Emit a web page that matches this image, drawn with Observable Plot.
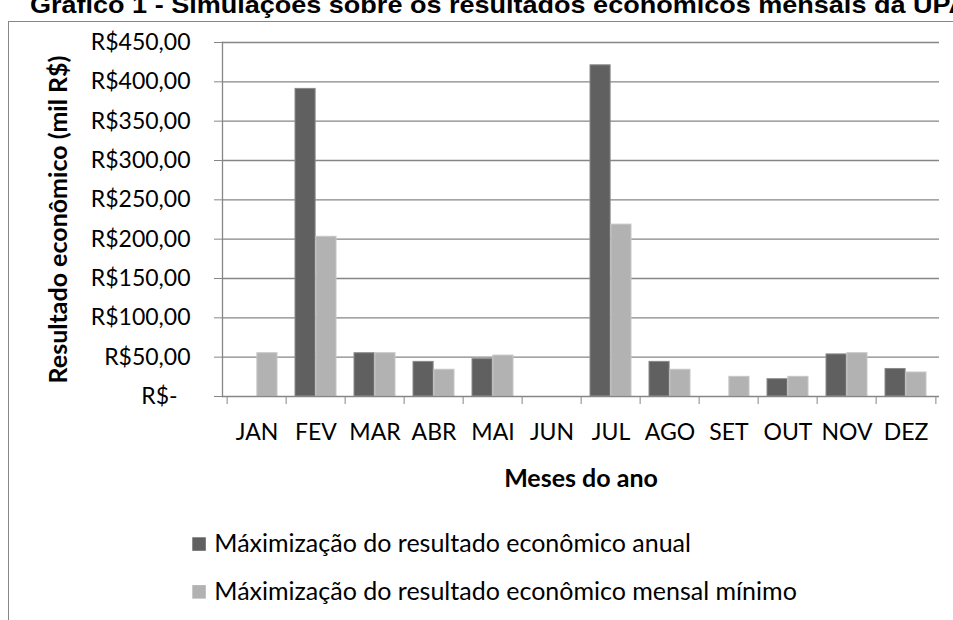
<!DOCTYPE html>
<html>
<head>
<meta charset="utf-8">
<script src="https://cdn.jsdelivr.net/npm/d3@7"></script>
<script src="https://cdn.jsdelivr.net/npm/@observablehq/plot@0.6"></script>
<style>
  html, body { margin: 0; padding: 0; background: #fff; }
  #wrap { position: relative; width: 953px; height: 620px; overflow: hidden; background: #fff; }
  #frame { position: absolute; left: 8px; top: 21px; width: 1000px; height: 700px; border: 1px solid #878787; box-sizing: border-box; }
  #title { position: absolute; left: 0; top: 0; }
  #chart { position: absolute; left: 0; top: 0; }
  #legend { position: absolute; left: 0; top: 520px; }
</style>
</head>
<body>
<div id="wrap">
  <div id="frame"></div>
  <div id="chart"></div>
  <div id="legend"></div>
  <div id="title"></div>
</div>
<script>
// ---- data ----
const titleText = "Gráfico 1 - Simulações sobre os resultados econômicos mensais da UPA";
const months = ["JAN","FEV","MAR","ABR","MAI","JUN","JUL","AGO","SET","OUT","NOV","DEZ"];
const seriesNames = [
  "Máximização do resultado econômico anual",
  "Máximização do resultado econômico mensal mínimo"
];
const anual  = [null, 391, 55, 44, 47.5, null, 421, 44, null, 22, 53.5, 35];
const mensal = [55, 203, 55, 34, 52, null, 218.5, 34, 25, 25, 55, 30.5];
const yTicks = [0, 50, 100, 150, 200, 250, 300, 350, 400, 450];
const yLabel = "Resultado econômico (mil R$)";
const xLabel = "Meses do ano";
const colors = ["#606060", "#b2b2b2"];
const strokes = ["#8a8a8a", "#c6c6c6"];

// ---- layout ----
const W = 953, H = 500, mL = 222, mR = 14, mT = 42, mB = 104;
const step = (W - mL - mR) / months.length;
const gap = 9;
const half = step / 2;
const font = "Lato, 'Open Sans', sans-serif";
const gray = "#868686";

const rowsA = months.map((m, i) => ({month: m, value: anual[i]})).filter(d => d.value != null);
const rowsB = months.map((m, i) => ({month: m, value: mensal[i]})).filter(d => d.value != null);

const fmt = v => v === 0 ? "R$-\u2002\u200A" : "R$" + v + ",00";

const chart = Plot.plot({
  width: W, height: H,
  marginLeft: mL, marginRight: mR, marginTop: mT, marginBottom: mB,
  style: {fontFamily: font, fontSize: "23px", color: "#000", background: "transparent"},
  x: {type: "band", domain: months, padding: 0, axis: null},
  y: {domain: [0, 450], axis: null},
  marks: [
    Plot.gridY(yTicks.slice(1), {stroke: gray, strokeOpacity: 1, strokeWidth: 1.3}),
    Plot.barY(rowsA, {x: "month", y: "value", fill: colors[0], stroke: strokes[0], strokeWidth: 1, insetLeft: gap, insetRight: half}),
    Plot.barY(rowsB, {x: "month", y: "value", fill: colors[1], stroke: strokes[1], strokeWidth: 1, insetLeft: half, insetRight: gap}),
    Plot.ruleY([0], {stroke: gray, strokeWidth: 1.3}),
    Plot.frame({anchor: "left", stroke: gray, strokeWidth: 1.3}),
    // y axis ticks and labels
    Plot.axisY({ticks: yTicks, tickSize: 8, tickPadding: 24, tickFormat: fmt, stroke: gray, label: null, fontSize: 23}),
    Plot.axisY({ticks: [], label: yLabel, labelArrow: "none", labelAnchor: "center", labelOffset: 173, fontWeight: "bold", fontSize: 25}),
    // x axis boundary ticks
    Plot.axisX({tickSize: 8, tickFormat: () => "", dx: -half, stroke: gray, label: null}),
    Plot.axisX({ticks: [months[months.length - 1]], tickSize: 8, tickFormat: () => "", dx: half, stroke: gray, label: null}),
    // x labels
    Plot.axisX({tickSize: 0, tickPadding: 27, label: null, fontSize: 23}),
    Plot.axisX({ticks: [], label: xLabel, labelArrow: "none", labelAnchor: "center", labelOffset: 90, fontWeight: "bold", fontSize: 25})
  ]
});
// remove any direction arrows Plot may append to axis labels
d3.select(chart).selectAll("text").each(function() {
  const t = this.textContent;
  if (/[↑↓←→]/.test(t)) this.textContent = t.replace(/\s*[↑↓←→]\s*/g, "");
});
document.getElementById("chart").appendChild(chart);

// ---- title ----
const tsvg = d3.select("#title").append("svg").attr("width", W).attr("height", 20).style("overflow", "visible");
tsvg.append("text")
  .attr("x", 30).attr("y", 13)
  .attr("font-family", "'Liberation Sans', Arial, sans-serif")
  .attr("font-weight", "bold").attr("font-size", 24)
  .attr("textLength", 938).attr("lengthAdjust", "spacingAndGlyphs")
  .text(titleText);

// ---- legend ----
const lsvg = d3.select("#legend").append("svg").attr("width", W).attr("height", 100);
seriesNames.forEach((name, i) => {
  const g = lsvg.append("g").attr("transform", `translate(0, ${i * 47.8})`);
  g.append("rect").attr("x", 192.3).attr("y", 17.3).attr("width", 13.5).attr("height", 13.5).attr("fill", colors[i]);
  g.append("text").attr("x", 214.3).attr("y", 32.3)
    .attr("font-family", font).attr("font-size", 25).attr("fill", "#000").text(name);
});
</script>
</body>
</html>
